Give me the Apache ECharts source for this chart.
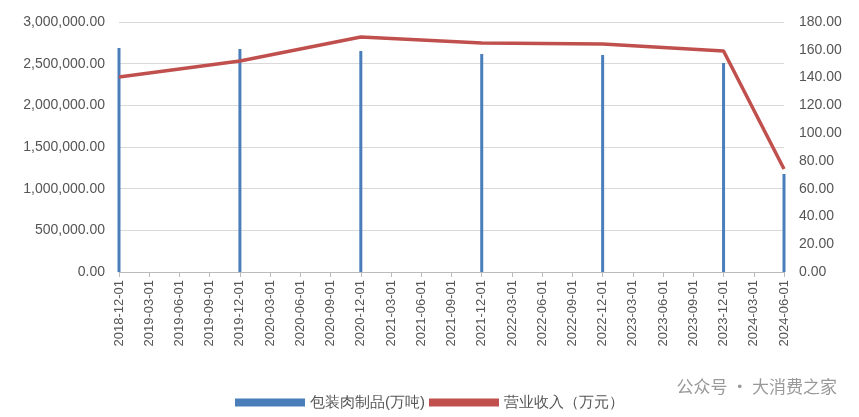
<!DOCTYPE html>
<html><head><meta charset="utf-8">
<script src="https://cdn.jsdelivr.net/npm/echarts@6/dist/echarts.min.js"></script>
<style>html,body{margin:0;background:#fff}#c{width:859px;height:417px}</style>
</head><body><div id="c"></div>
<script>
const categories = ["2018-12-01","2019-03-01","2019-06-01","2019-09-01","2019-12-01","2020-03-01","2020-06-01","2020-09-01","2020-12-01","2021-03-01","2021-06-01","2021-09-01","2021-12-01","2022-03-01","2022-06-01","2022-09-01","2022-12-01","2023-03-01","2023-06-01","2023-09-01","2023-12-01","2024-03-01","2024-06-01"];
const barValues = [2688000,null,null,null,2676000,null,null,null,2652000,null,null,null,2616000,null,null,null,2604000,null,null,null,2508000,null,1176000];
const lineValues = [140.4,null,null,null,151.9,null,null,null,169.2,null,null,null,164.9,null,null,null,164.2,null,null,null,159.1,null,74.2];
const fnt = 'Liberation Sans, Arial, sans-serif';
const chart = echarts.init(document.getElementById('c'));
chart.setOption({
  animation:false,
  grid:{left:119,right:75,top:22,bottom:145},
  legend:{bottom:2,left:'center',itemGap:4,textStyle:{fontSize:15,color:'#555',fontFamily:fnt},
    data:[{name:'包装肉制品(万吨)',icon:'rect'},{name:'营业收入（万元）',icon:'rect'}],itemWidth:70,itemHeight:8},
  xAxis:{type:'category',data:categories,boundaryGap:false,
    axisLine:{lineStyle:{color:'#bbb'}},axisTick:{show:true,lineStyle:{color:'#bbb'}},
    axisLabel:{rotate:90,fontSize:13,color:'#555',fontFamily:fnt,interval:0}},
  yAxis:[{type:'value',min:0,max:3000000,interval:500000,
      axisLabel:{fontSize:14,margin:14,color:'#555',fontFamily:fnt,formatter:v=>v.toLocaleString('en-US',{minimumFractionDigits:2})},
      splitLine:{lineStyle:{color:'#d9d9d9'}}},
    {type:'value',min:0,max:180,interval:20,
      axisLabel:{fontSize:14,margin:15,color:'#555',fontFamily:fnt,formatter:v=>v.toFixed(2)},splitLine:{show:false}}],
  series:[
    {name:'包装肉制品(万吨)',type:'bar',data:barValues,barWidth:3,itemStyle:{color:'#4a7ebb'}},
    {name:'营业收入（万元）',type:'line',yAxisIndex:1,data:lineValues,connectNulls:true,symbol:'none',
      lineStyle:{color:'#c0504d',width:3.5},itemStyle:{color:'#c0504d'}}
  ],
  graphic:[{type:'text',right:22,bottom:22,style:{text:'公众号 · 大消费之家',fontSize:17,fill:'#999',fontFamily:'Noto Sans CJK SC'}}]
});
</script></body></html>
